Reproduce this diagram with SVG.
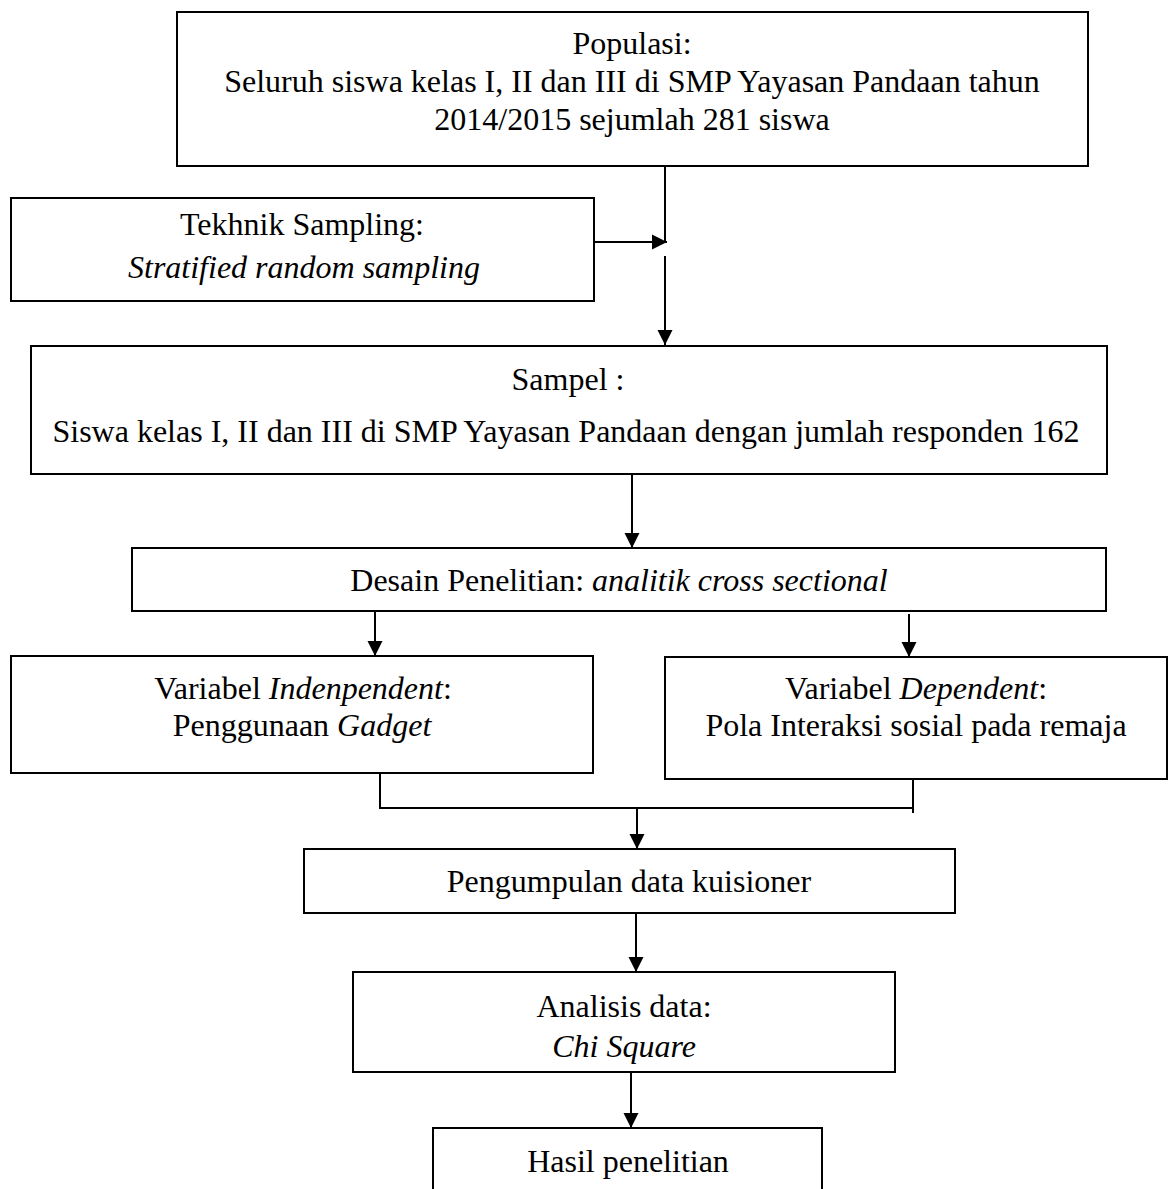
<svg xmlns="http://www.w3.org/2000/svg" width="1170" height="1189" viewBox="0 0 1170 1189">
<style>
  .box { fill: #ffffff; stroke: #000000; stroke-width: 2; }
  .t { font-family: "Liberation Serif", "Times New Roman", serif; font-size: 32px; fill: #000000; text-anchor: middle; }
  .i { font-style: italic; }
  .c { fill: none; stroke: #000000; stroke-width: 2; }
  .ca { fill: none; stroke: #000000; stroke-width: 2; marker-end: url(#arrow); }
</style>
<defs>
  <marker id="arrow" markerUnits="userSpaceOnUse" markerWidth="16" markerHeight="16" refX="15" refY="8" orient="auto">
    <path d="M0,0.5 L15,8 L0,15.5 Z" fill="#000000"/>
  </marker>
</defs>
<rect width="1170" height="1189" fill="#ffffff"/>

<g id="connectors">
  <line class="c" x1="665" y1="166" x2="665" y2="243"/>
  <line class="ca" x1="665" y1="256" x2="665" y2="345"/>
  <line class="ca" x1="594" y1="242" x2="667" y2="242"/>
  <line class="ca" x1="632" y1="474" x2="632" y2="548"/>
  <line class="ca" x1="375" y1="611" x2="375" y2="656"/>
  <line class="ca" x1="909" y1="614" x2="909" y2="657"/>
  <line class="c" x1="380" y1="773" x2="380" y2="808"/>
  <line class="c" x1="913" y1="777" x2="913" y2="813"/>
  <line class="c" x1="379" y1="808" x2="913" y2="808"/>
  <line class="ca" x1="637" y1="808" x2="637" y2="849"/>
  <line class="ca" x1="636" y1="913" x2="636" y2="972"/>
  <line class="ca" x1="631" y1="1072" x2="631" y2="1128"/>
</g>

<g id="populasi">
  <rect class="box" x="177" y="12" width="911" height="154"/>
  <text class="t" x="632" y="54">Populasi:</text>
  <text class="t" x="632" y="92">Seluruh siswa kelas I, II dan III di SMP Yayasan Pandaan tahun</text>
  <text class="t" x="632" y="130">2014/2015 sejumlah 281 siswa</text>
</g>

<g id="tekhnik-sampling">
  <rect class="box" x="11" y="198" width="583" height="103"/>
  <text class="t" x="302" y="235">Tekhnik Sampling:</text>
  <text class="t i" x="304" y="278">Stratified random sampling</text>
</g>

<g id="sampel">
  <rect class="box" x="31" y="346" width="1076" height="128"/>
  <text class="t" x="568" y="390">Sampel :</text>
  <text class="t" x="566" y="442">Siswa kelas I, II dan III di SMP Yayasan Pandaan dengan jumlah responden 162</text>
</g>

<g id="desain">
  <rect class="box" x="132" y="548" width="974" height="63"/>
  <text class="t" x="619" y="591">Desain Penelitian: <tspan class="i">analitik cross sectional</tspan></text>
</g>

<g id="var-independent">
  <rect class="box" x="11" y="656" width="582" height="117"/>
  <text class="t" x="303" y="699">Variabel <tspan class="i">Indenpendent</tspan>:</text>
  <text class="t" x="302" y="736">Penggunaan <tspan class="i">Gadget</tspan></text>
</g>

<g id="var-dependent">
  <rect class="box" x="665" y="657" width="502" height="122"/>
  <text class="t" x="916" y="699">Variabel <tspan class="i">Dependent</tspan>:</text>
  <text class="t" x="916" y="736">Pola Interaksi sosial pada remaja</text>
</g>

<g id="pengumpulan">
  <rect class="box" x="304" y="849" width="651" height="64"/>
  <text class="t" x="629" y="892">Pengumpulan data kuisioner</text>
</g>

<g id="analisis">
  <rect class="box" x="353" y="972" width="542" height="100"/>
  <text class="t" x="624" y="1017">Analisis data:</text>
  <text class="t i" x="624" y="1057">Chi Square</text>
</g>

<g id="hasil">
  <rect class="box" x="433" y="1128" width="389" height="90"/>
  <text class="t" x="628" y="1172">Hasil penelitian</text>
</g>
</svg>
